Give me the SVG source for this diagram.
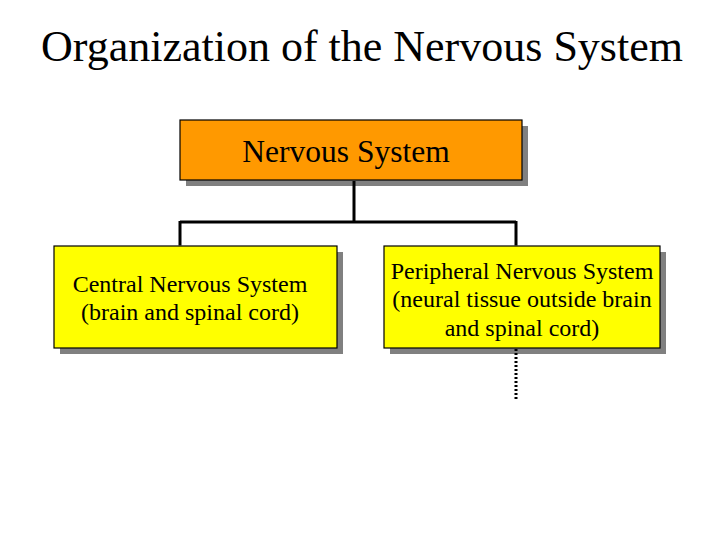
<svg xmlns="http://www.w3.org/2000/svg" width="720" height="540" viewBox="0 0 720 540">
<style>
text{font-family:"Liberation Serif","Times New Roman",serif;fill:#000;text-anchor:middle}
.shadow{fill:#808080}
.box{stroke:#000;stroke-width:1.2}
.org{fill:#FF9900}
.yel{fill:#FFFF00}
.conn{stroke:#000;stroke-width:3;fill:none}
.lbl{font-size:24px}
</style>
<rect width="720" height="540" fill="#fff"/>
<text x="362" y="61" font-size="44">Organization of the Nervous System</text>
<g id="nervous-system">
<rect class="shadow" x="186" y="126" width="342" height="60"/>
<rect class="box org" x="180" y="120" width="342" height="60"/>
<text x="346" y="162" font-size="31.5">Nervous System</text>
</g>
<g id="cns">
<rect class="shadow" x="60" y="252" width="283" height="102"/>
<rect class="box yel" x="54" y="246" width="283" height="102"/>
<text class="lbl" x="190" y="292">Central Nervous System</text>
<text class="lbl" x="190" y="320">(brain and spinal cord)</text>
</g>
<g id="pns">
<rect class="shadow" x="390" y="252" width="276" height="102"/>
<rect class="box yel" x="384" y="246" width="276" height="102"/>
<text class="lbl" x="522" y="279">Peripheral Nervous System</text>
<text class="lbl" x="522" y="307">(neural tissue outside brain</text>
<text class="lbl" x="522" y="336">and spinal cord)</text>
</g>
<g id="connectors">
<path class="conn" d="M354 181V222M180 222H516M180 221V245.5M516 221V245.5"/>
<path class="conn" d="M516 349V399" stroke-dasharray="2 2"/>
</g>
</svg>
